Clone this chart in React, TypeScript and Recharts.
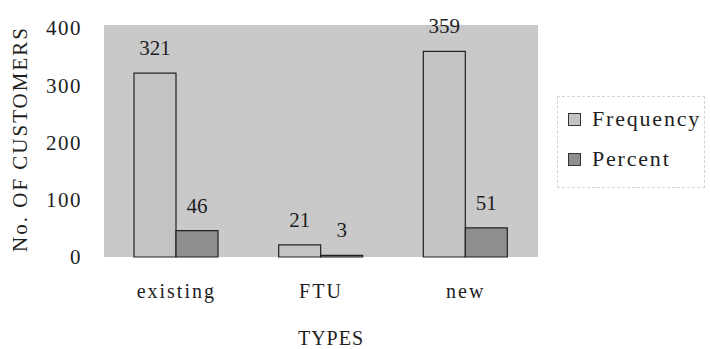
import { Bar, BarChart, CartesianGrid, LabelList, Legend, XAxis, YAxis } from "recharts";

const categories = ["existing", "FTU", "new"];
const frequency = [321, 21, 359];
const percent = [46, 3, 51];
const yTicks = [0, 100, 200, 300, 400];

const seriesInfo = [
  { key: "Frequency", fill: "#c3c3c3" },
  { key: "Percent", fill: "#8e8e8e" },
];

const data = categories.map((c, i) => ({
  type: c,
  Frequency: frequency[i],
  Percent: percent[i],
}));

const font = "'Liberation Serif', 'Times New Roman', serif";
const ink = "#1e1e1e";

function LegendBox() {
  return (
    <div
      style={{
        border: "1px dashed #d4d4d4",
        padding: "2px 0 8px 10px",
        fontFamily: font,
        fontSize: 22,
        letterSpacing: 1.8,
        color: ink,
        width: 148,
        boxSizing: "border-box",
      }}
    >
      {seriesInfo.map((s) => (
        <div key={s.key} style={{ display: "flex", alignItems: "center", height: 40 }}>
          <span
            style={{
              display: "inline-block",
              width: 11,
              height: 11,
              background: s.fill,
              border: "1px solid #333",
              marginRight: 11,
            }}
          />
          <span>{s.key}</span>
        </div>
      ))}
    </div>
  );
}

export default function App() {
  return (
    <div style={{ position: "absolute", left: 0, top: 0, background: "#fff" }}>
      <BarChart
        width={710}
        height={349}
        data={data}
        margin={{ top: 25, right: 172, bottom: 32, left: 0 }}
        barGap={0}
        barSize={42}
        style={{ fontFamily: font }}
      >
        <CartesianGrid fill="#c9c9c9" horizontal={false} vertical={false} />
        <XAxis
          dataKey="type"
          axisLine={false}
          tickLine={false}
          tickSize={0}
          tickMargin={27}
          height={60}
          tick={{ fontSize: 20, fill: ink, letterSpacing: 2, fontFamily: font }}
          label={{
            content: (p: any) => {
              const vb = p.viewBox || {};
              return (
                <text
                  x={vb.x + vb.width / 2 + 10}
                  y={345}
                  textAnchor="middle"
                  fontSize={20}
                  letterSpacing={1}
                  fill={ink}
                  fontFamily={font}
                >
                  TYPES
                </text>
              );
            },
          }}
        />
        <YAxis
          width={104}
          domain={[0, 405]}
          ticks={yTicks}
          interval={0}
          axisLine={false}
          tickLine={false}
          tickSize={0}
          tickMargin={22}
          tick={{ fontSize: 21, fill: ink, letterSpacing: 1.5, fontFamily: font }}
          label={{
            content: (p: any) => {
              const vb = p.viewBox || {};
              const cy = vb.y + vb.height / 2 - 2;
              return (
                <text
                  x={27}
                  y={cy}
                  transform={`rotate(-90, 27, ${cy})`}
                  textAnchor="middle"
                  fontSize={21}
                  letterSpacing={2}
                  fill={ink}
                  fontFamily={font}
                >
                  No. OF CUSTOMERS
                </text>
              );
            },
          }}
        />
        <Legend
          layout="vertical"
          align="center"
          verticalAlign="middle"
          content={() => <LegendBox />}
          wrapperStyle={{ position: "absolute", left: 557, top: 96, width: 150 }}
        />
        {seriesInfo.map((s) => (
          <Bar
            key={s.key}
            dataKey={s.key}
            fill={s.fill}
            stroke="#222"
            strokeWidth={1.2}
            isAnimationActive={false}
          >
            <LabelList
              dataKey={s.key}
              position="top"
              offset={18}
              fontSize={21}
              fill={ink}
              fontFamily={font}
            />
          </Bar>
        ))}
      </BarChart>
    </div>
  );
}
